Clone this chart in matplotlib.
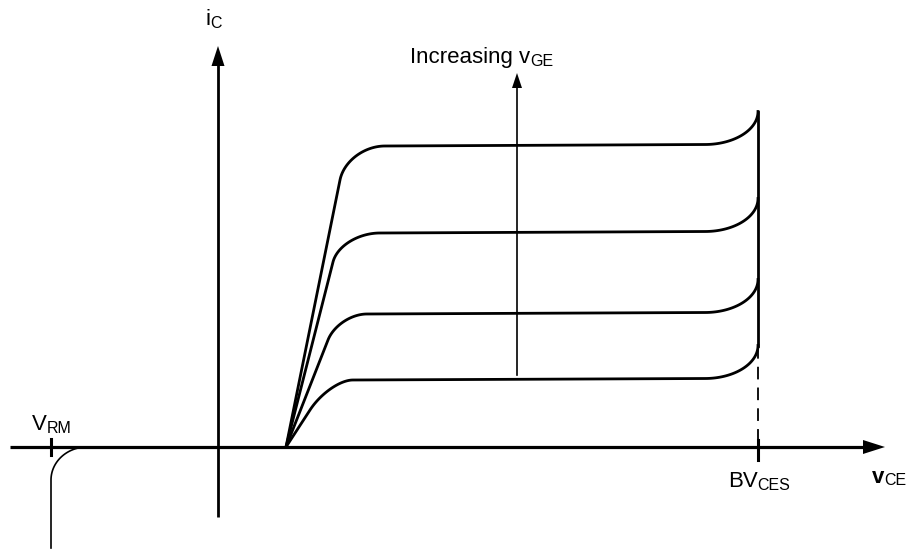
import numpy as np
import matplotlib
matplotlib.use("Agg")
import matplotlib.pyplot as plt
from matplotlib.transforms import offset_copy

plt.rcParams['font.family'] = ['Liberation Sans', 'DejaVu Sans']

# forward characteristic (x: v_CE, y: i_C, arbitrary units)
v_th = 68                              # where all curves leave the axis
knee_v = [122, 115, 110, 92]           # end of the steep linear part
knee_i = [267, 185, 107, 37]
sat_v = [167, 162, 149, 135]           # start of the flat region
sat_i = [301, 214, 133, 67]            # current level of each curve
sat_rise = 1.5                         # slight slope of the flat region
bd_start = 487                         # onset of avalanche
bv_ces = 540                           # breakdown voltage
bd_rise = 33

# reverse side
v_rm = -167
rev_knee = -131
rev_bottom = -101

fig = plt.figure(figsize=(9.19, 5.49), dpi=100)
ax = fig.add_axes([0, 0, 1, 1])
ax.set_xlim(-218, 701)
ax.set_ylim(-102, 447)
ax.axis('off')

K = 'black'

# axes with arrowheads
ax.plot([-208, 648], [0, 0], color=K, lw=2.3, solid_capstyle='butt')
ax.fill([645, 667, 645], [7, 0, -7], color=K, lw=0)
ax.plot([0, 0], [-70, 385], color=K, lw=2.0, solid_capstyle='butt')
ax.fill([-6.5, 0, 6.5], [381, 401, 381], color=K, lw=0)


def rounded(p0, corner, p3, k=0.55, n=50):
    # cubic bend from p0 to p3 around the given corner
    p0, c, p3 = map(np.asarray, (p0, corner, p3))
    p1 = p0 + k * (c - p0)
    p2 = p3 + k * (c - p3)
    t = np.linspace(0, 1, n)[:, None]
    return ((1 - t) ** 3 * p0 + 3 * (1 - t) ** 2 * t * p1
            + 3 * (1 - t) * t ** 2 * p2 + t ** 3 * p3)


for kv, ki, sv, si in zip(knee_v, knee_i, sat_v, sat_i):
    # corner: linear part extended up to the saturation level
    cx = v_th + (kv - v_th) * si / ki
    bend = rounded((kv, ki), (cx, si), (sv, si))
    # flat part, then avalanche bend up into BV_CES
    ang = np.linspace(0, np.pi / 2, 40)
    top = si + sat_rise
    bx = bd_start + (bv_ces - bd_start) * np.sin(ang)
    by = top + bd_rise * (1 - np.cos(ang))
    xs = np.concatenate([[v_th], bend[:, 0], bx])
    ys = np.concatenate([[0], bend[:, 1], by])
    ax.plot(xs, ys, color=K, lw=2.0, solid_joinstyle='round')

# breakdown line
bd_low = sat_i[-1] + sat_rise + bd_rise
bd_high = sat_i[0] + sat_rise + bd_rise
ax.plot([bv_ces, bv_ces], [bd_low, bd_high], color=K, lw=2.0)
ax.plot([bv_ces, bv_ces], [bd_low, -15], color=K, lw=1.3,
        dashes=(7, 4.5))
ax.plot([bv_ces, bv_ces], [7, -13], color=K, lw=2.2)

# reverse blocking
ang = np.linspace(0, np.pi / 2, 40)
rx = rev_knee - (rev_knee - v_rm) * np.sin(ang)
ry = -bd_rise * (1 - np.cos(ang))
ax.plot(np.concatenate([[rev_knee + 10], rx, [v_rm]]),
        np.concatenate([[0], ry, [rev_bottom]]), color=K, lw=1.2)
ax.plot([v_rm, v_rm], [8, -8], color=K, lw=2.2)

# increasing v_GE arrow
ax.plot([299, 299], [72, 362], color=K, lw=1.2)
ax.fill([294, 299, 304], [359, 374, 359], color=K, lw=0)

renderer = fig.canvas.get_renderer()


def sub_label(x, y, main, sub, size=16, weight='normal', drop=3):
    t = ax.text(x, y, main, fontsize=size, fontweight=weight,
                ha='left', va='baseline')
    w = t.get_window_extent(renderer).width
    tr = offset_copy(ax.transData, fig=fig, x=w, y=-drop, units='dots')
    ax.text(x, y, sub, fontsize=size * 0.72, ha='left', va='baseline',
            transform=tr)


sub_label(-13, 422, 'i', 'C')
sub_label(192, 384, 'Increasing v', 'GE')
sub_label(-186, 17, 'V', 'RM')
sub_label(510, -40, 'BV', 'CES')
sub_label(654, -36, 'v', 'CE', weight='bold', drop=2)

fig.savefig('out.png', dpi=100)
